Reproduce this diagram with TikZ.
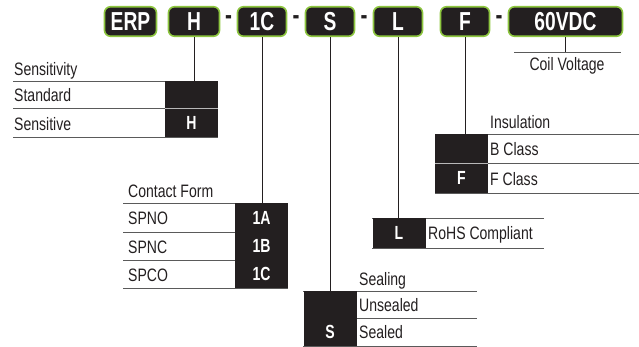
\documentclass[tikz,border=0pt]{standalone}
\usepackage{fontspec}
\setmainfont{Liberation Sans}[FakeStretch=0.78]
\newfontfamily\codefamily{Liberation Sans}[FakeStretch=0.74]
\definecolor{boxblack}{HTML}{231F20}
\definecolor{relaygreen}{HTML}{8DC63F}
\definecolor{rulegray}{HTML}{5A5A5A}
\definecolor{sepgray}{HTML}{B8B8B8}

\begin{document}
\begin{tikzpicture}[x=1pt, y=-1pt,
    code/.style={draw=relaygreen, line width=1.6pt, fill=boxblack, rounded corners=6pt, text=white,
      font=\codefamily\bfseries\fontsize{26}{26}\selectfont, minimum height=29.5pt, inner sep=0pt},
    hyph/.style={text=boxblack, inner sep=0pt, font=\codefamily\bfseries\fontsize{28}{28}\selectfont},
    key/.style={fill=boxblack, text=white, minimum width=53pt, inner sep=0pt,
      font=\codefamily\bfseries\fontsize{19}{19}\selectfont},
    txt/.style={anchor=base west, inner sep=0pt, text=boxblack, font=\fontsize{18}{18}\selectfont},
    rule/.style={draw=rulegray, line width=0.9pt},
    link/.style={draw=boxblack, line width=1pt}]
  \useasboundingbox (0,0) rectangle (639,346);

  % part number
  \node[code, minimum width=52pt] (codeERP) at (130.5,21.5) {ERP};
  \node[code, minimum width=51pt] (codeH) at (194,21.5) {H};
  \node[hyph] (hyphA) at (228.5,20) {-};
  \node[code, minimum width=49pt] (code1C) at (262,21.5) {1C};
  \node[hyph] (hyphB) at (296,20) {-};
  \node[code, minimum width=49pt] (codeS) at (330,21.5) {S};
  \node[hyph] (hyphC) at (364,20) {-};
  \node[code, minimum width=49pt] (codeL) at (398,21.5) {L};
  \node[code, minimum width=49pt] (codeF) at (465,21.5) {F};
  \node[hyph] (hyphD) at (499,20) {-};
  \node[code, minimum width=114pt] (codeV) at (565.5,21.5) {60VDC};

  % sensitivity
  \node[txt] (sensTitle) at (14,75.5) {Sensitivity};
  \draw[rule] (13,81) -- (218,81) (13,108) -- (165,108) (13,137) -- (218,137);
  \node[key, minimum height=27pt] (sensStd) at (191.5,94.5) {};
  \node[key, minimum height=29pt] (sensH) at (191.5,122.5) {H};
  \draw[sepgray, line width=0.9pt] (sensStd.south west) -- (sensStd.south east);
  \node[txt] (sensA) at (14,101.5) {Standard};
  \node[txt] (sensB) at (14,130.5) {Sensitive};
  \coordinate (sensTop) at (194,81);
  \draw[link] (codeH) -- (sensTop);

  % contact form
  \node[txt] (contTitle) at (128,197) {Contact Form};
  \draw[rule] (123,203) -- (288,203) (123,232) -- (235,232) (123,260) -- (235,260) (123,288) -- (288,288);
  \node[key, minimum height=29pt] (cont1A) at (261.5,217.5) {1A};
  \node[key, minimum height=28pt] (cont1B) at (261.5,246) {1B};
  \node[key, minimum height=28pt] (cont1C) at (261.5,274) {1C};
  \node[txt] (contA) at (128,224) {SPNO};
  \node[txt] (contB) at (128,253) {SPNC};
  \node[txt] (contC) at (128,281) {SPCO};
  \coordinate (contTop) at (262,203);
  \draw[link] (code1C) -- (contTop);

  % sealing
  \node[txt] (sealTitle) at (359,285) {Sealing};
  \draw[rule] (303,291) -- (477,291) (357,318) -- (477,318) (303,346) -- (477,346);
  \node[key, minimum height=27pt] (sealNone) at (330,304.5) {};
  \node[key, minimum height=28pt] (sealS) at (330,332) {S};
  \node[txt] (sealA) at (359,311) {Unsealed};
  \node[txt] (sealB) at (359,338) {Sealed};
  \coordinate (sealTop) at (330,291);
  \draw[link] (codeS) -- (sealTop);

  % rohs
  \draw[rule] (372,218) -- (544,218) (372,248) -- (544,248);
  \node[key, minimum height=30pt] (rohsL) at (399,233) {L};
  \node[txt] (rohsA) at (428,239) {RoHS Compliant};
  \coordinate (rohsTop) at (398,218);
  \draw[link] (codeL) -- (rohsTop);

  % insulation
  \node[txt] (insTitle) at (490,128) {Insulation};
  \draw[rule] (435,134) -- (639,134) (488,163) -- (639,163) (435,193) -- (639,193);
  \node[key, minimum height=29pt] (insB) at (461.5,148.5) {};
  \node[key, minimum height=30pt] (insF) at (461.5,178) {F};
  \draw[sepgray, line width=0.9pt] (insB.south west) -- (insB.south east);
  \node[txt] (insA) at (490,155) {B Class};
  \node[txt] (insC) at (490,185) {F Class};
  \coordinate (insTop) at (465,134);
  \draw[link] (codeF) -- (insTop);

  % coil voltage
  \draw[rule] (514,52) -- (621,52);
  \coordinate (coilTop) at (565.5,52);
  \draw[link] (codeV) -- (coilTop);
  \node[anchor=base, inner sep=0pt, text=boxblack, font=\fontsize{18}{18}\selectfont] (coilTitle) at (567,70) {Coil Voltage};
\end{tikzpicture}
\end{document}
